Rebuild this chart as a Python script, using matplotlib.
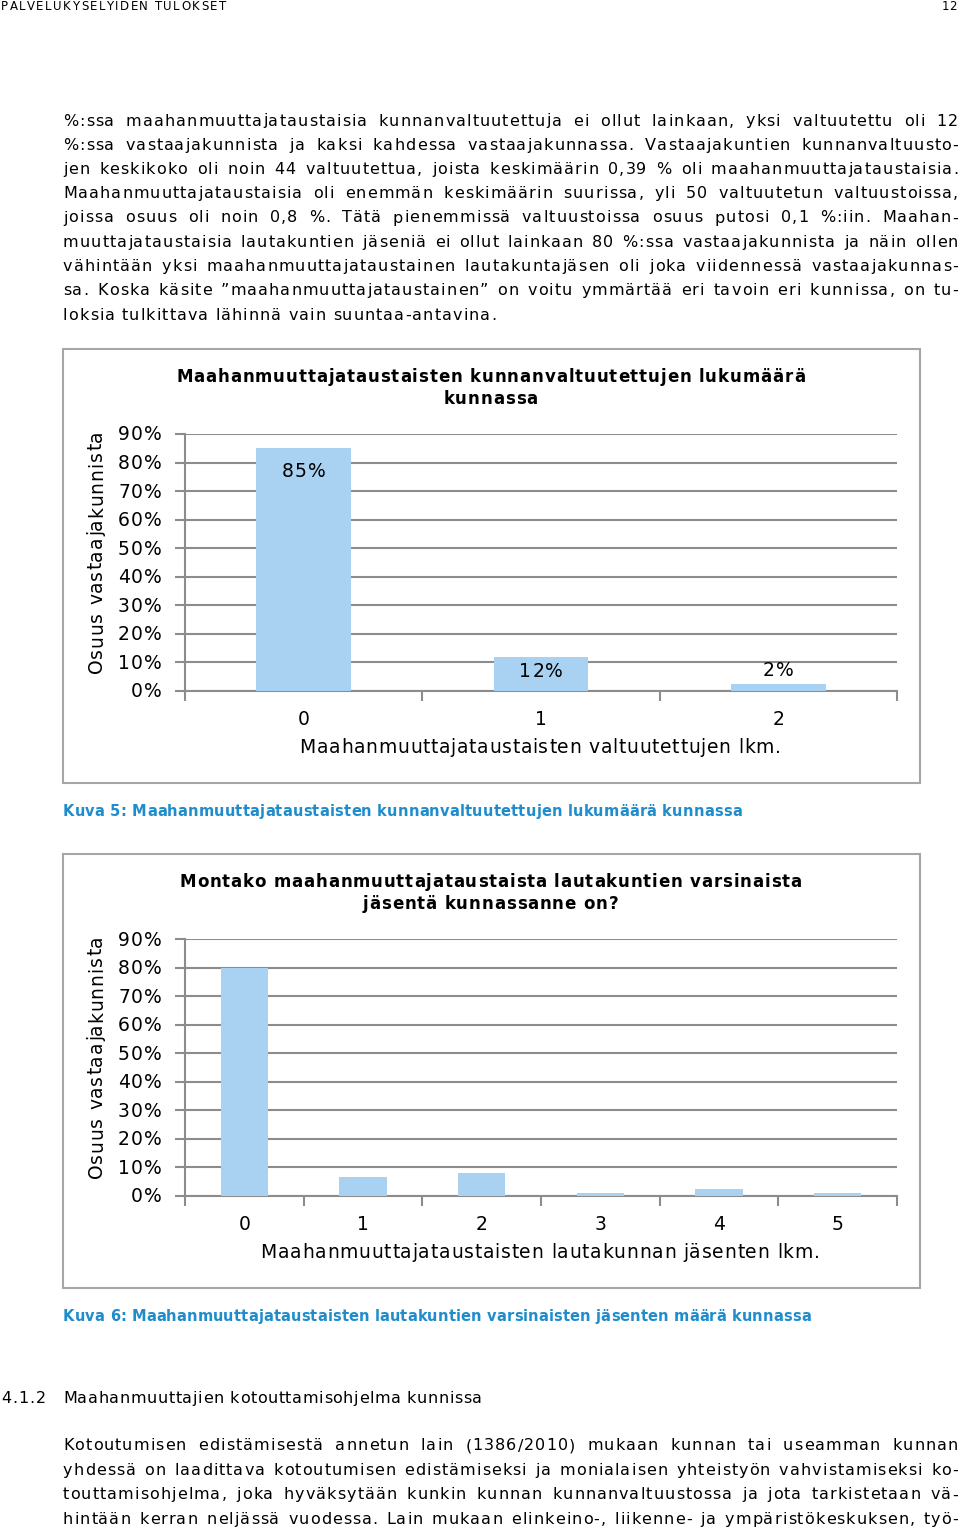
import matplotlib
matplotlib.use("Agg")
import matplotlib.pyplot as plt
from matplotlib.font_manager import FontProperties
from matplotlib.patches import Rectangle
from matplotlib.ticker import FixedLocator

W, H = 960, 1533

# --- data -------------------------------------------------------------
chart1_title = ["Maahanmuuttajataustaisten kunnanvaltuutettujen lukumäärä", "kunnassa"]
chart1_categories = ["0", "1", "2"]
chart1_values = [85, 12, 2.3]          # % of responding municipalities
chart1_xlabel = "Maahanmuuttajataustaisten valtuutettujen lkm."
chart1_caption = "Kuva 5: Maahanmuuttajataustaisten kunnanvaltuutettujen lukumäärä kunnassa"

chart2_title = ["Montako maahanmuuttajataustaista lautakuntien varsinaista", "jäsentä kunnassanne on?"]
chart2_categories = ["0", "1", "2", "3", "4", "5"]
chart2_values = [80, 6.6, 7.9, 1.2, 2.6, 1.2]
chart2_xlabel = "Maahanmuuttajataustaisten lautakunnan jäsenten lkm."
chart2_caption = "Kuva 6: Maahanmuuttajataustaisten lautakuntien varsinaisten jäsenten määrä kunnassa"

ylabel = "Osuus vastaajakunnista"
yticks = [0, 10, 20, 30, 40, 50, 60, 70, 80, 90]

para1 = [
    "%:ssa maahanmuuttajataustaisia kunnanvaltuutettuja ei ollut lainkaan, yksi valtuutettu oli 12",
    "%:ssa vastaajakunnista ja kaksi kahdessa vastaajakunnassa. Vastaajakuntien kunnanvaltuusto-",
    "jen keskikoko oli noin 44 valtuutettua, joista keskimäärin 0,39 % oli maahanmuuttajataustaisia.",
    "Maahanmuuttajataustaisia oli enemmän keskimäärin suurissa, yli 50 valtuutetun valtuustoissa,",
    "joissa osuus oli noin 0,8 %. Tätä pienemmissä valtuustoissa osuus putosi 0,1 %:iin. Maahan-",
    "muuttajataustaisia lautakuntien jäseniä ei ollut lainkaan 80 %:ssa vastaajakunnista ja näin ollen",
    "vähintään yksi maahanmuuttajataustainen lautakuntajäsen oli joka viidennessä vastaajakunnas-",
    "sa. Koska käsite ”maahanmuuttajataustainen” on voitu ymmärtää eri tavoin eri kunnissa, on tu-",
    "loksia tulkittava lähinnä vain suuntaa-antavina.",
]
para2 = [
    "Kotoutumisen edistämisestä annetun lain (1386/2010) mukaan kunnan tai useamman kunnan",
    "yhdessä on laadittava kotoutumisen edistämiseksi ja monialaisen yhteistyön vahvistamiseksi ko-",
    "touttamisohjelma, joka hyväksytään kunkin kunnan kunnanvaltuustossa ja jota tarkistetaan vä-",
    "hintään kerran neljässä vuodessa. Lain mukaan elinkeino-, liikenne- ja ympäristökeskuksen, työ-",
]
header_left = "PALVELUKYSELYIDEN TULOKSET"
header_right = "12"
section_no = "4.1.2"
section_title = "Maahanmuuttajien kotouttamisohjelma kunnissa"

BAR_COLOR = "#a9d2f2"
GRID_COLOR = "#8c8c8c"
FRAME_COLOR = "#a6a6a6"
CAPTION_COLOR = "#1f8ccb"

# the scanned page is stretched sideways, so a wide face fits it best
FONT = "DejaVu Sans"

fig = plt.figure(figsize=(W / 100, H / 100), dpi=100)
renderer = fig.canvas.get_renderer()


def fx(x):
    return x / W


def fy(y):
    return 1 - y / H


def fp(size, weight="normal"):
    return FontProperties(family=FONT, size=size, weight=weight)


_widths = {}


def char_w(c, prop):
    key = (c, prop.get_size(), prop.get_weight())
    if key not in _widths:
        w1 = renderer.get_text_width_height_descent("I" + c + "I", prop, ismath=False)[0]
        w0 = renderer.get_text_width_height_descent("II", prop, ismath=False)[0]
        _widths[key] = w1 - w0
    return _widths[key]


def natural(s, prop):
    return sum(char_w(c, prop) for c in s)


def track_for(s, prop, target):
    # letter spacing (px) so that s spans target px
    return (target - natural(s, prop)) / max(len(s) - 1, 1)


def ttext(s, x, y, prop, track, ha="left", color="black", rot=0, space_extra=0.0):
    # x, y in page pixels (y from top, y = baseline)
    total = natural(s, prop) + track * (len(s) - 1) + space_extra * s.count(" ")
    if ha == "center":
        start = -total / 2
    elif ha == "right":
        start = -total
    else:
        start = 0
    pos = start
    for c in s:
        if c != " ":
            if rot:
                fig.text(fx(x), fy(y - pos), c, fontproperties=prop, color=color,
                         ha="left", va="baseline", rotation=90, rotation_mode="anchor")
            else:
                fig.text(fx(x + pos), fy(y), c, fontproperties=prop, color=color,
                         ha="left", va="baseline")
        pos += char_w(c, prop) + track + (space_extra if c == " " else 0)


def paragraph(lines, x0, x1, y0, lh, prop, track, justify_last=False):
    for i, line in enumerate(lines):
        y = y0 + i * lh
        if i == len(lines) - 1 and not justify_last:
            ttext(line, x0, y, prop, track)
            continue
        base = natural(line, prop) + track * (len(line) - 1)
        extra = (x1 - x0 - base) / max(line.count(" "), 1)
        ttext(line, x0, y, prop, track, space_extra=extra)


# --- page text ----------------------------------------------------------
hdr = fp(8.5)
ttext(header_left, 1, 10, hdr, track_for(header_left, hdr, 225))
ttext(header_right, 957, 10, hdr, 0, ha="right")

body = fp(11.5)
body_track = track_for(para1[-1], body, 433)
paragraph(para1, 63, 958, 125.5, 24.25, body, body_track)

ttext(section_no, 1, 1403, body, body_track)
ttext(section_title, 63, 1403, body, track_for(section_title, body, 419))
paragraph(para2, 63, 958, 1450.5, 24.4, body, body_track, justify_last=True)


# --- charts ----------------------------------------------------------------
title_fp = fp(12, "bold")
ytick_fp = fp(13.5)
xtick_fp = fp(13.5)
ylabel_fp = fp(13.5)
xlabel_fp = fp(13.5)
caption_fp = fp(10.5, "bold")
ytick_track = track_for("90%", ytick_fp, 44)
ylabel_track = track_for(ylabel, ylabel_fp, 243)


def to_px(ax, x, y):
    dx, dy = ax.transData.transform((x, y))
    return dx, H - dy


def draw_chart(box_top, title, title_w, cats, vals, xlabel, xlabel_w, caption, caption_w,
               show_labels):
    fig.patches.append(Rectangle((fx(63), fy(box_top + 434)), fx(920 - 63), 434 / H,
                                 transform=fig.transFigure, fill=False,
                                 edgecolor=FRAME_COLOR, linewidth=1.5))
    plot_top = box_top + 85
    plot_bot = box_top + 342
    ax = fig.add_axes([fx(185), fy(plot_bot), fx(897 - 185), (plot_bot - plot_top) / H])
    x = list(range(len(cats)))
    bars = ax.bar(x, vals, width=0.4, color=BAR_COLOR, zorder=3)
    ax.set_xlim(-0.5, len(cats) - 0.5)
    ax.set_ylim(0, 90)
    ax.yaxis.set_major_locator(FixedLocator(yticks))
    ax.grid(axis="y", color=GRID_COLOR, linewidth=1.5, zorder=0)
    ax.set_xticks([i - 0.5 for i in range(len(cats) + 1)])
    ax.tick_params(axis="x", length=7, width=1.5, color=GRID_COLOR, direction="out",
                   labelbottom=False)
    ax.tick_params(axis="y", length=7, width=1.5, color=GRID_COLOR, labelleft=False)
    for s in ("top", "right"):
        ax.spines[s].set_visible(False)
    for s in ("left", "bottom"):
        ax.spines[s].set_color(GRID_COLOR)
        ax.spines[s].set_linewidth(1.5)

    # tick labels, drawn letter by letter
    for t in yticks:
        _, py = to_px(ax, -0.5, t)
        ttext(f"{t}%", 162, py + 6.5, ytick_fp, ytick_track, ha="right")
    for i, c in enumerate(cats):
        px, _ = to_px(ax, i, 0)
        ttext(c, px, plot_bot + 34, xtick_fp, 0, ha="center")

    if show_labels:
        for b, v in zip(bars, vals):
            cx = b.get_x() + b.get_width() / 2
            px, top = to_px(ax, cx, v)
            _, base = to_px(ax, cx, 0)
            h = base - top
            if h > 60:
                yb = top + 29
            elif h > 20:
                yb = (top + base) / 2 + 3
            else:
                yb = top - 8
            ttext(f"{v:.0f}%", px, yb, ytick_fp, ytick_track, ha="center")

    ttrack = track_for(title[0], title_fp, title_w)
    ttext(title[0], 490.5, box_top + 33, title_fp, ttrack, ha="center")
    ttext(title[1], 490.5, box_top + 55, title_fp, ttrack, ha="center")
    ttext(ylabel, 102, box_top + 203 + 121.5, ylabel_fp, ylabel_track, rot=90)
    ttext(xlabel, 540, box_top + 404, xlabel_fp, track_for(xlabel, xlabel_fp, xlabel_w),
          ha="center")
    ttext(caption, 63, box_top + 467, caption_fp, track_for(caption, caption_fp, caption_w),
          color=CAPTION_COLOR)


draw_chart(349, chart1_title, 629, chart1_categories, chart1_values,
           chart1_xlabel, 481, chart1_caption, 679, True)
draw_chart(854, chart2_title, 622, chart2_categories, chart2_values,
           chart2_xlabel, 559, chart2_caption, 748, False)

fig.savefig("out.png", dpi=100)
